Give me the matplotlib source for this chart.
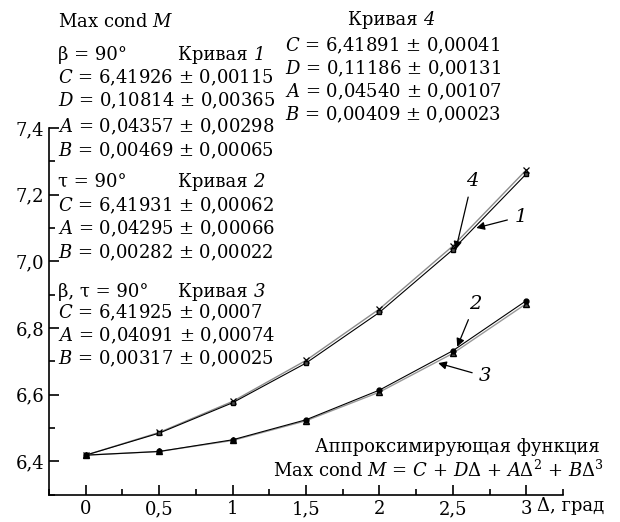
import matplotlib
matplotlib.use("Agg")
import matplotlib.pyplot as plt
from matplotlib.ticker import MultipleLocator

plt.rcParams['font.family'] = ['DejaVu Serif']
plt.rcParams['mathtext.fontset'] = 'dejavuserif'

# angle, degrees
delta = [0, 0.5, 1, 1.5, 2, 2.5, 3]
curve1 = [6.419, 6.485, 6.576, 6.695, 6.847, 7.035, 7.262]
curve4 = [6.419, 6.487, 6.580, 6.703, 6.857, 7.046, 7.274]
curve2 = [6.419, 6.430, 6.465, 6.525, 6.614, 6.732, 6.882]
curve3 = [6.419, 6.430, 6.463, 6.522, 6.608, 6.724, 6.873]

xticks = [0, 0.5, 1, 1.5, 2, 2.5, 3]
xlabels = ["0", "0,5", "1", "1,5", "2", "2,5", "3"]
yticks = [6.4, 6.6, 6.8, 7.0, 7.2, 7.4]
ylabels = ["6,4", "6,6", "6,8", "7,0", "7,2", "7,4"]

fig = plt.figure(figsize=(6.2, 5.22), dpi=100)
ax = fig.add_axes([0.079, 0.052, 0.829, 0.703])

ax.plot(delta, curve4, color="0.55", lw=1.0, marker="x", ms=4, mec="k", mew=0.9)
ax.plot(delta, curve1, color="k", lw=0.8, marker="s", ms=3.5, mfc="0.3", mec="k")
ax.plot(delta, curve3, color="0.6", lw=1.0, marker="^", ms=4, mfc="0.3", mec="k")
ax.plot(delta, curve2, color="k", lw=0.8, marker="o", ms=3.5, mfc="k", mec="k")

ax.set_xlim(-0.25, 3.25)
ax.set_ylim(6.3, 7.4)
ax.set_xticks(xticks)
ax.set_xticklabels(xlabels)
ax.set_yticks(yticks)
ax.set_yticklabels(ylabels)
ax.xaxis.set_minor_locator(MultipleLocator(0.25))
ax.yaxis.set_minor_locator(MultipleLocator(0.1))
ax.tick_params(which="both", direction="in", labelsize=13, width=1.2)
ax.tick_params(which="major", length=7)
ax.tick_params(which="minor", length=4)
ax.tick_params(axis="x", pad=4)
ax.spines["top"].set_visible(False)
ax.spines["right"].set_visible(False)
ax.spines["left"].set_linewidth(1.2)
ax.spines["bottom"].set_linewidth(1.2)
ax.patch.set_alpha(0)

arrow = dict(arrowstyle="-|>", color="k", lw=0.9, mutation_scale=12, shrinkA=3, shrinkB=0)
ax.annotate("4", xy=(2.52, 7.035), xytext=(2.63, 7.24), fontsize=14, style="italic",
            ha="center", va="center", arrowprops=arrow)
ax.annotate("1", xy=(2.66, 7.100), xytext=(2.96, 7.134), fontsize=14, style="italic",
            ha="center", va="center", arrowprops=arrow)
ax.annotate("2", xy=(2.53, 6.744), xytext=(2.65, 6.872), fontsize=14, style="italic",
            ha="center", va="center", arrowprops=arrow)
ax.annotate("3", xy=(2.40, 6.695), xytext=(2.72, 6.655), fontsize=14, style="italic",
            ha="center", va="center", arrowprops=arrow)

fs = 13
H = 522.0
W = 620.0


def put(px, py, s, ha="left", **kw):
    return fig.text(px / W, 1 - py / H, s, fontsize=fs, ha=ha, va="center", **kw)


renderer = fig.canvas.get_renderer()


def curve_title(px, py, num, ha="left"):
    t = put(px, py, "Кривая ", ha=ha)
    bb = t.get_window_extent(renderer)
    put(bb.x1, py, num, style="italic")


put(58, 22, r"Max cond $M$")
put(58, 55, "β = 90°")
curve_title(178, 55, "1")
put(58, 78, r"$C$ = 6,41926 ± 0,00115")
put(58, 101, r"$D$ = 0,10814 ± 0,00365")
put(58, 127, r"$A$ = 0,04357 ± 0,00298")
put(58, 151, r"$B$ = 0,00469 ± 0,00065")
put(58, 182, "τ = 90°")
curve_title(178, 182, "2")
put(58, 206, r"$C$ = 6,41931 ± 0,00062")
put(58, 229, r"$A$ = 0,04295 ± 0,00066")
put(58, 253, r"$B$ = 0,00282 ± 0,00022")
put(58, 292, "β, τ = 90°")
curve_title(178, 292, "3")
put(58, 313, r"$C$ = 6,41925 ± 0,0007")
put(58, 336, r"$A$ = 0,04091 ± 0,00074")
put(58, 359, r"$B$ = 0,00317 ± 0,00025")

curve_title(348, 20, "4")
put(285, 46, r"$C$ = 6,41891 ± 0,00041")
put(285, 69, r"$D$ = 0,11186 ± 0,00131")
put(285, 92, r"$A$ = 0,04540 ± 0,00107")
put(285, 115, r"$B$ = 0,00409 ± 0,00023")

put(600, 447, "Аппроксимирующая функция", ha="right")
put(604, 470, r"Max cond $M$ = $C$ + $D\Delta$ + $A\Delta^2$ + $B\Delta^3$", ha="right")
put(604, 506, "Δ, град", ha="right")

fig.savefig("out.png", dpi=100)
